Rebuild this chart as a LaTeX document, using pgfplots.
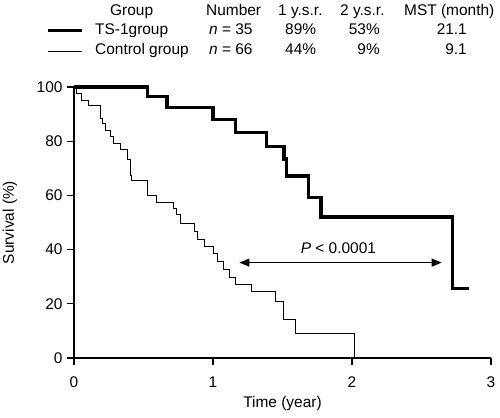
\documentclass[border=0pt]{standalone}
\usepackage{fontspec}
\setmainfont{Liberation Sans}
\usepackage{pgfplots}
\pgfplotsset{compat=1.18}
\usetikzlibrary{arrows.meta}
\begin{document}
\begin{tikzpicture}[x=1bp,y=1bp,font=\fontsize{15.5}{18}\selectfont]
\path[use as bounding box] (0,0) rectangle (500,417);
\begin{axis}[
  at={(74bp,59bp)}, anchor=south west,
  scale only axis, width=417bp, height=271bp,
  xmin=0, xmax=3, ymin=0, ymax=100,
  axis x line*=bottom, axis y line*=left,
  axis line style={black, line width=1.2bp, -},
  xtick={0,1,2,3}, ytick={0,20,40,60,80,100},
  tick align=outside, major tick length=7bp,
  tick style={black, line width=1.2bp},
  xticklabel style={yshift=-8bp},
  yticklabel style={xshift=-1bp},
  /pgf/number format/assume math mode=true,
  xlabel={Time (year)}, ylabel={Survival (\%)},
  xlabel style={at={(axis description cs:0.5,-0.1697)}, anchor=center},
  ylabel style={at={(axis description cs:-0.1535,0.5)}, anchor=center},
  clip=false,
]
\addplot[const plot, black, line width=3.4bp, line join=miter] coordinates {
(0,100) (0.53,96.4) (0.67,92.5) (1.00,88.1) (1.16,83.3) (1.386,78.0)
(1.511,73.4) (1.530,67.2) (1.686,59.3) (1.777,52.1) (2.722,25.7) (2.842,25.7)
};
\addplot[const plot, black, line width=0.9bp] coordinates {
(0,100) (0.019,97.7) (0.055,95.2) (0.103,93.1) (0.192,88.4) (0.204,86.6)
(0.223,84.1) (0.264,81.7) (0.283,79.2) (0.336,77.0) (0.386,73.4) (0.403,67.5)
(0.415,65.7) (0.527,59.8) (0.59,57.3) (0.714,55.2) (0.734,52.8) (0.763,49.7)
(0.866,46.6) (0.887,43.8) (0.938,41.3) (1.00,38.6) (1.03,35.5) (1.074,32.6)
(1.115,29.6) (1.16,27.2) (1.28,24.5) (1.446,21.0) (1.51,14.2) (1.59,9.1)
(2.02,0) (2.02,0)
};
\draw[{Triangle[length=10bp,width=8bp]}-{Triangle[length=10bp,width=8bp]}, line width=0.9bp]
  (axis cs:1.19,35.2) -- (axis cs:2.645,35.2);
\node[anchor=base, inner sep=0] at (axis cs:1.902,38.4) {\textit{P} < 0.0001};
\end{axis}
% legend table
\draw[line width=3.4bp] (48,386.7) -- (82,386.7);
\draw[line width=0.9bp] (48,366) -- (82,366);
\node[anchor=base west, inner sep=0] at (110,401) {Group};
\node[anchor=base west, inner sep=0] at (206,401) {Number};
\node[anchor=base west, inner sep=0] at (278,401) {1 y.s.r.};
\node[anchor=base west, inner sep=0] at (340,401) {2 y.s.r.};
\node[anchor=base west, inner sep=0] at (404,401) {MST (month)};
\node[anchor=base west, inner sep=0] at (95,382.7) {TS-1group};
\node[anchor=base west, inner sep=0] at (209,382.7) {\textit{n} = 35};
\node[anchor=base west, inner sep=0] at (285,382.7) {89\%};
\node[anchor=base east, inner sep=0] at (380,382.7) {53\%};
\node[anchor=base east, inner sep=0] at (467,382.7) {21.1};
\node[anchor=base west, inner sep=0] at (95,363) {Control group};
\node[anchor=base west, inner sep=0] at (209,363) {\textit{n} = 66};
\node[anchor=base west, inner sep=0] at (285,363) {44\%};
\node[anchor=base east, inner sep=0] at (380,363) {9\%};
\node[anchor=base east, inner sep=0] at (467,363) {9.1};
\end{tikzpicture}
\end{document}
